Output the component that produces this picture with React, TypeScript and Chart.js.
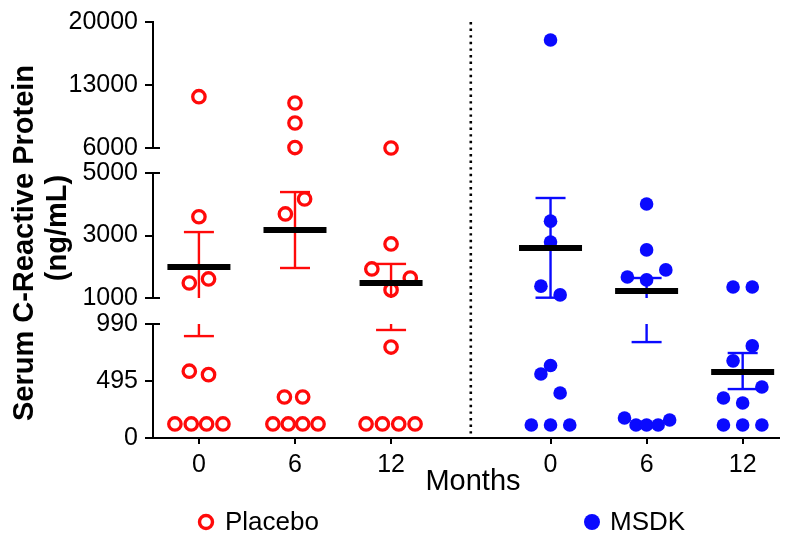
import React, { useEffect, useRef } from "react";
import { Chart, registerables } from "chart.js";

Chart.register(...registerables);

// ---------- data ----------
const monthLabels = ["0", "6", "12"];
const seriesNames = ["Placebo", "MSDK"];
const xTitle = "Months";
const yTitleLines = ["Serum C-Reactive Protein", "(ng/mL)"];
const yTickValues = [0, 495, 990, 1000, 3000, 5000, 6000, 13000, 20000];
const yTickLabels = ["0", "495", "990", "1000", "3000", "5000", "6000", "13000", "20000"];

// Placebo individual values (ng/mL) and horizontal jitter (fraction of category spacing)
const placeboM0 = [11700, 3600, 1480, 1610, 580, 550, 122, 122, 122, 122];
const placeboM0Jitter = [0, 0, -0.1, 0.1, -0.1, 0.1, -0.25, -0.08, 0.08, 0.25];
const placeboM6 = [11000, 8780, 6050, 4170, 3690, 356, 356, 122, 122, 122, 122];
const placeboM6Jitter = [0, 0, 0, 0.1, -0.1, -0.11, 0.08, -0.23, -0.07, 0.08, 0.24];
const placeboM12 = [6000, 2730, 1930, 1640, 1260, 790, 122, 122, 122, 122];
const placeboM12Jitter = [0, 0, -0.2, 0.2, 0, 0, -0.26, -0.09, 0.08, 0.25];

// MSDK individual values (ng/mL) and jitter
const msdkM0 = [18000, 3460, 2790, 1380, 1100, 630, 556, 391, 113, 113, 113];
const msdkM0Jitter = [0, 0, 0, -0.1, 0.1, 0, -0.1, 0.1, -0.2, 0, 0.2];
const msdkM6 = [4010, 2540, 1900, 1670, 1580, 174, 113, 113, 113, 156];
const msdkM6Jitter = [0, 0, 0.2, -0.2, 0, -0.23, -0.11, 0, 0.12, 0.24];
const msdkM12 = [1350, 1350, 800, 670, 443, 347, 304, 113, 113, 113];
const msdkM12Jitter = [-0.1, 0.1, 0.1, -0.1, 0.2, -0.2, 0, -0.2, 0, 0.2];

// Mean and SEM bounds per month
const placeboMean = [1990, 3180, 1480];
const placeboUpper = [3110, 4390, 2090];
const placeboLower = [885, 1960, 938];
const msdkMean = [2600, 1224, 573];
const msdkUpper = [4200, 1640, 738];
const msdkLower = [1010, 833, 425];

// ---------- layout / style ----------
const RED = "#ff0a0a";
const BLUE = "#0a0aff";
const FONT = "Arial, 'Liberation Sans', Helvetica, sans-serif";

// broken axis: value ranges mapped onto contiguous scale units
const SEGMENTS = [
  { from: 0, to: 990, start: 0, len: 114 },
  { from: 1000, to: 5000, start: 140, len: 125 },
  { from: 6000, to: 20000, start: 290, len: 126 },
];
const Y_MAX = 416;

function T(v: number): number {
  const s = v <= 995 ? SEGMENTS[0] : v <= 5500 ? SEGMENTS[1] : SEGMENTS[2];
  return s.start + ((v - s.from) / (s.to - s.from)) * s.len;
}

const groupCenters = [0, 1, 2, 3.66, 4.66, 5.66];

function pts(values: number[], jitter: number[], center: number) {
  return values.map((v, i) => ({ x: center + jitter[i], y: T(v) }));
}

const breakPlugin = {
  id: "brokenAxisDecor",
  afterDatasetsDraw(chart: any) {
    const { ctx, chartArea, scales } = chart;
    const xs = scales.x;
    const ys = scales.y;
    ctx.save();

    // dotted separator
    const sepX = xs.getPixelForValue((groupCenters[2] + groupCenters[3]) / 2);
    ctx.strokeStyle = "#000";
    ctx.lineWidth = 2.6;
    ctx.setLineDash([2.4, 4.2]);
    ctx.beginPath();
    ctx.moveTo(sepX, chartArea.top);
    ctx.lineTo(sepX, chartArea.bottom);
    ctx.stroke();
    ctx.setLineDash([]);

    // error bars + means
    const drawGroup = (gi: number, mean: number, up: number, lo: number, color: string) => {
      const cx = xs.getPixelForValue(groupCenters[gi]);
      const tUp = T(up);
      const tLo = T(lo);
      ctx.strokeStyle = color;
      ctx.lineWidth = 2.4;
      ctx.lineCap = "butt";
      for (const s of SEGMENTS) {
        const a = Math.max(tLo, s.start);
        const b = Math.min(tUp, s.start + s.len);
        if (b > a) {
          ctx.beginPath();
          ctx.moveTo(cx, ys.getPixelForValue(a));
          ctx.lineTo(cx, ys.getPixelForValue(b));
          ctx.stroke();
        }
      }
      const capW = 15;
      for (const t of [tUp, tLo]) {
        const py = ys.getPixelForValue(t);
        ctx.beginPath();
        ctx.moveTo(cx - capW, py);
        ctx.lineTo(cx + capW, py);
        ctx.stroke();
      }
      const my = ys.getPixelForValue(T(mean));
      ctx.strokeStyle = "#000";
      ctx.lineWidth = 6;
      ctx.beginPath();
      ctx.moveTo(cx - 31.5, my);
      ctx.lineTo(cx + 31.5, my);
      ctx.stroke();
    };
    for (let i = 0; i < 3; i++) {
      drawGroup(i, placeboMean[i], placeboUpper[i], placeboLower[i], RED);
      drawGroup(i + 3, msdkMean[i], msdkUpper[i], msdkLower[i], BLUE);
    }

    // broken y axis line
    const ax = chartArea.left;
    ctx.strokeStyle = "#000";
    ctx.lineWidth = 2;
    SEGMENTS.forEach((s, i) => {
      const yb = ys.getPixelForValue(s.start);
      const yt = ys.getPixelForValue(s.start + s.len);
      ctx.beginPath();
      ctx.moveTo(ax, i === 0 ? yb + 1 : yb);
      ctx.lineTo(ax, yt - 1);
      ctx.stroke();
      if (i > 0) {
        ctx.beginPath();
        ctx.moveTo(ax - 1, yb);
        ctx.lineTo(ax + 7, yb);
        ctx.stroke();
      }
      if (i < SEGMENTS.length - 1) {
        ctx.beginPath();
        ctx.moveTo(ax - 1, yt);
        ctx.lineTo(ax + 7, yt);
        ctx.stroke();
      }
    });
    ctx.restore();
  },
  afterDraw(chart: any) {
    const { ctx } = chart;
    ctx.save();
    ctx.fillStyle = "#000";
    ctx.textBaseline = "middle";
    ctx.textAlign = "center";

    // y-axis title (two lines, rotated)
    ctx.font = `bold 29px ${FONT}`;
    ctx.save();
    ctx.translate(25, 243);
    ctx.rotate(-Math.PI / 2);
    ctx.fillText(yTitleLines[0], 0, 0);
    ctx.restore();
    ctx.save();
    ctx.translate(58, 228);
    ctx.rotate(-Math.PI / 2);
    ctx.fillText(yTitleLines[1], 0, 0);
    ctx.restore();

    // x-axis title
    ctx.font = `29px ${FONT}`;
    ctx.fillText(xTitle, 473, 482);

    // legend
    const ly = 522;
    ctx.font = `26px ${FONT}`;
    ctx.textAlign = "left";
    ctx.strokeStyle = RED;
    ctx.lineWidth = 3.4;
    ctx.beginPath();
    ctx.arc(206, ly, 6.5, 0, Math.PI * 2);
    ctx.stroke();
    ctx.fillText(seriesNames[0], 225, ly + 1);
    ctx.fillStyle = BLUE;
    ctx.beginPath();
    ctx.arc(592, ly, 8, 0, Math.PI * 2);
    ctx.fill();
    ctx.fillStyle = "#000";
    ctx.fillText(seriesNames[1], 610, ly + 1);
    ctx.restore();
  },
};

export default function App() {
  const ref = useRef<HTMLCanvasElement | null>(null);

  useEffect(() => {
    document.body.style.margin = "0";
    if (!ref.current) return;

    const placeboData = [
      ...pts(placeboM0, placeboM0Jitter, groupCenters[0]),
      ...pts(placeboM6, placeboM6Jitter, groupCenters[1]),
      ...pts(placeboM12, placeboM12Jitter, groupCenters[2]),
    ];
    const msdkData = [
      ...pts(msdkM0, msdkM0Jitter, groupCenters[3]),
      ...pts(msdkM6, msdkM6Jitter, groupCenters[4]),
      ...pts(msdkM12, msdkM12Jitter, groupCenters[5]),
    ];

    const chart = new Chart(ref.current, {
      type: "scatter",
      data: {
        datasets: [
          {
            label: seriesNames[0],
            data: placeboData,
            pointRadius: 6.2,
            pointBorderWidth: 3.3,
            pointBackgroundColor: "rgba(0,0,0,0)",
            pointBorderColor: RED,
          },
          {
            label: seriesNames[1],
            data: msdkData,
            pointRadius: 6.8,
            pointBorderWidth: 0,
            pointBackgroundColor: BLUE,
            pointBorderColor: BLUE,
          },
        ],
      },
      options: {
        responsive: false,
        animation: false,
        devicePixelRatio: 1,
        layout: { padding: { top: 22, right: 8, left: 0, bottom: 0 } },
        plugins: {
          legend: { display: false },
          tooltip: { enabled: false },
        },
        scales: {
          x: {
            type: "linear",
            min: -0.478,
            max: 6.033,
            afterFit: (s: any) => {
              s.height = 106;
            },
            afterBuildTicks: (s: any) => {
              s.ticks = groupCenters.map((v) => ({ value: v }));
            },
            ticks: {
              callback: (_v: any, i: number) => monthLabels[i % 3],
              font: { size: 25, family: FONT },
              color: "#000",
              padding: 6,
              maxRotation: 0,
              autoSkip: false,
            },
            grid: {
              display: true,
              drawOnChartArea: false,
              drawTicks: true,
              tickLength: 6,
              lineWidth: 2,
              color: "#000",
            },
            border: { display: true, color: "#000", width: 2 },
            title: { display: false },
          },
          y: {
            type: "linear",
            min: 0,
            max: Y_MAX,
            afterFit: (s: any) => {
              s.width = 153;
            },
            afterBuildTicks: (s: any) => {
              s.ticks = yTickValues.map((v) => ({ value: T(v) }));
            },
            ticks: {
              callback: (_v: any, i: number) => yTickLabels[i],
              font: { size: 25, family: FONT },
              color: "#000",
              padding: 7,
              autoSkip: false,
            },
            grid: {
              display: true,
              drawOnChartArea: false,
              drawTicks: true,
              tickLength: 8,
              lineWidth: 2,
              color: "#000",
            },
            border: { display: false },
            title: { display: false },
          },
        },
      },
      plugins: [breakPlugin],
    });

    return () => chart.destroy();
  }, []);

  return (
    <div style={{ width: 788, height: 544 }}>
      <canvas ref={ref} width={788} height={544} style={{ display: "block", width: 788, height: 544 }} />
    </div>
  );
}
